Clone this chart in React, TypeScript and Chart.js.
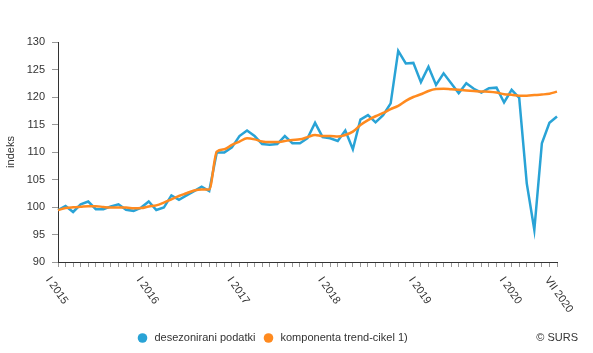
import React, { useEffect, useRef } from 'react';
import { Chart, registerables } from 'chart.js';

Chart.register(...registerables);

const romanMonths = ['I', 'II', 'III', 'IV', 'V', 'VI', 'VII', 'VIII', 'IX', 'X', 'XI', 'XII'];
const years = [2015, 2016, 2017, 2018, 2019, 2020];
const lastMonthIndex2020 = 6; // VII 2020

const categories: string[] = [];
years.forEach((y) => {
  romanMonths.forEach((m, i) => {
    if (y === 2020 && i > lastMonthIndex2020) return;
    categories.push(`${m} ${y}`);
  });
});

const tickLabels = ['I 2015', 'I 2016', 'I 2017', 'I 2018', 'I 2019', 'I 2020', 'VII 2020'];

const seasonallyAdjusted = [
  99.45, 100.2, 99.1, 100.5, 101.0, 99.6, 99.6, 100.1, 100.5, 99.5, 99.3, 99.9,
  101.0, 99.45, 99.9, 102.1, 101.3, 102.1, 102.9, 103.7, 102.9, 109.9, 109.9, 110.85,
  112.9, 113.9, 112.9, 111.45, 111.3, 111.45, 112.9, 111.6, 111.6, 112.5, 115.3, 112.7,
  112.5, 112.0, 113.9, 110.5, 115.9, 116.7, 115.4, 116.7, 118.85, 128.4, 126.1, 126.2,
  122.7, 125.5, 122.2, 124.3, 122.5, 120.7, 122.5, 121.5, 120.8, 121.6, 121.7, 119.0,
  121.3, 119.85, 104.3, 95.85, 111.6, 115.3, 116.45,
];

const trendCycle = [
  99.45, 99.8, 99.95, 100.05, 100.15, 100.15, 100.0, 99.9, 99.9, 99.9, 99.76, 99.8,
  100.1, 100.3, 100.8, 101.4, 102.0, 102.5, 103.0, 103.2, 103.2, 110.05, 110.5, 111.3,
  111.9, 112.5, 112.3, 111.9, 111.8, 111.8, 112.0, 112.2, 112.3, 112.7, 113.1, 112.9,
  112.9, 112.8, 113.1, 113.7, 114.9, 115.8, 116.5, 117.1, 117.8, 118.4, 119.3, 120.0,
  120.5, 121.1, 121.45, 121.5, 121.4, 121.3, 121.2, 121.1, 121.0, 120.95, 120.8, 120.5,
  120.4, 120.25, 120.25, 120.35, 120.45, 120.6, 120.97,
];

const seriesNames = ['desezonirani podatki', 'komponenta trend-cikel 1)'];
const seriesColors = ['#29a3d6', '#ff8a1f'];
const sourceText = '© SURS';
const yTitle = 'indeks';

const FONT = '"Liberation Sans", Arial, sans-serif';
const TEXT = '#333333';

const overlayPlugin = {
  id: 'overlay',
  afterDraw(chart: any) {
    const ctx = chart.ctx as CanvasRenderingContext2D;
    const xs = chart.scales.x;
    ctx.save();
    ctx.font = `11px ${FONT}`;
    ctx.fillStyle = TEXT;
    // rotated x labels
    tickLabels.forEach((lab) => {
      const idx = categories.indexOf(lab);
      if (idx < 0) return;
      const px = xs.getPixelForValue(idx);
      ctx.save();
      ctx.translate(px - 10, chart.chartArea.bottom + 16);
      ctx.rotate((55 * Math.PI) / 180);
      ctx.textAlign = 'left';
      ctx.textBaseline = 'middle';
      ctx.fillText(lab, 0, 0);
      ctx.restore();
    });
    // legend
    const ly = 338;
    const items = [
      { x: 142.5, name: seriesNames[0], color: seriesColors[0] },
      { x: 268.5, name: seriesNames[1], color: seriesColors[1] },
    ];
    ctx.textBaseline = 'middle';
    ctx.textAlign = 'left';
    items.forEach((it) => {
      ctx.beginPath();
      ctx.arc(it.x, ly, 4.8, 0, Math.PI * 2);
      ctx.fillStyle = it.color;
      ctx.fill();
      ctx.fillStyle = TEXT;
      ctx.fillText(it.name, it.x + 12, ly);
    });
    ctx.textAlign = 'right';
    ctx.fillText(sourceText, 578, ly);
    ctx.restore();
  },
};

export default function App() {
  const ref = useRef<HTMLCanvasElement | null>(null);
  useEffect(() => {
    if (!ref.current) return;
    const chart = new Chart(ref.current, {
      type: 'line',
      data: {
        labels: categories,
        datasets: [
          {
            label: seriesNames[0],
            data: seasonallyAdjusted,
            borderColor: seriesColors[0],
            backgroundColor: seriesColors[0],
            borderWidth: 2.5,
            pointRadius: 0,
            tension: 0,
            order: 1,
          },
          {
            label: seriesNames[1],
            data: trendCycle,
            borderColor: seriesColors[1],
            backgroundColor: seriesColors[1],
            borderWidth: 2.5,
            pointRadius: 0,
            cubicInterpolationMode: 'monotone',
            order: 0,
          },
        ],
      },
      options: {
        responsive: false,
        animation: false,
        layout: { padding: { top: 42, right: 36, left: 0, bottom: 0 } },
        plugins: { legend: { display: false }, tooltip: { enabled: false } },
        scales: {
          x: {
            type: 'category',
            offset: false,
            grid: {
              display: true,
              drawOnChartArea: false,
              drawTicks: true,
              tickLength: 5,
              color: '#999999',
            },
            border: { display: true, color: '#333333', width: 1 },
            ticks: {
              autoSkip: false,
              maxRotation: 0,
              minRotation: 0,
              callback: () => '',
              font: { size: 1 },
            },
            afterFit: (s: any) => {
              s.height = 91;
            },
          },
          y: {
            min: 90,
            max: 130,
            grid: {
              display: true,
              drawOnChartArea: false,
              drawTicks: true,
              tickLength: 6,
              color: '#999999',
            },
            border: { display: true, color: '#333333', width: 1 },
            ticks: {
              stepSize: 5,
              padding: 7,
              color: TEXT,
              font: { family: FONT, size: 11 },
            },
            title: {
              display: true,
              text: yTitle,
              color: TEXT,
              font: { family: FONT, size: 11 },
            },
            afterFit: (s: any) => {
              s.width = 58;
            },
          },
        },
      },
      plugins: [overlayPlugin],
    });
    return () => chart.destroy();
  }, []);
  return (
    <div style={{ position: 'fixed', left: 0, top: 0, width: 593, height: 353, background: '#fff' }}>
      <canvas ref={ref} width={593} height={353} style={{ display: 'block' }} />
    </div>
  );
}
